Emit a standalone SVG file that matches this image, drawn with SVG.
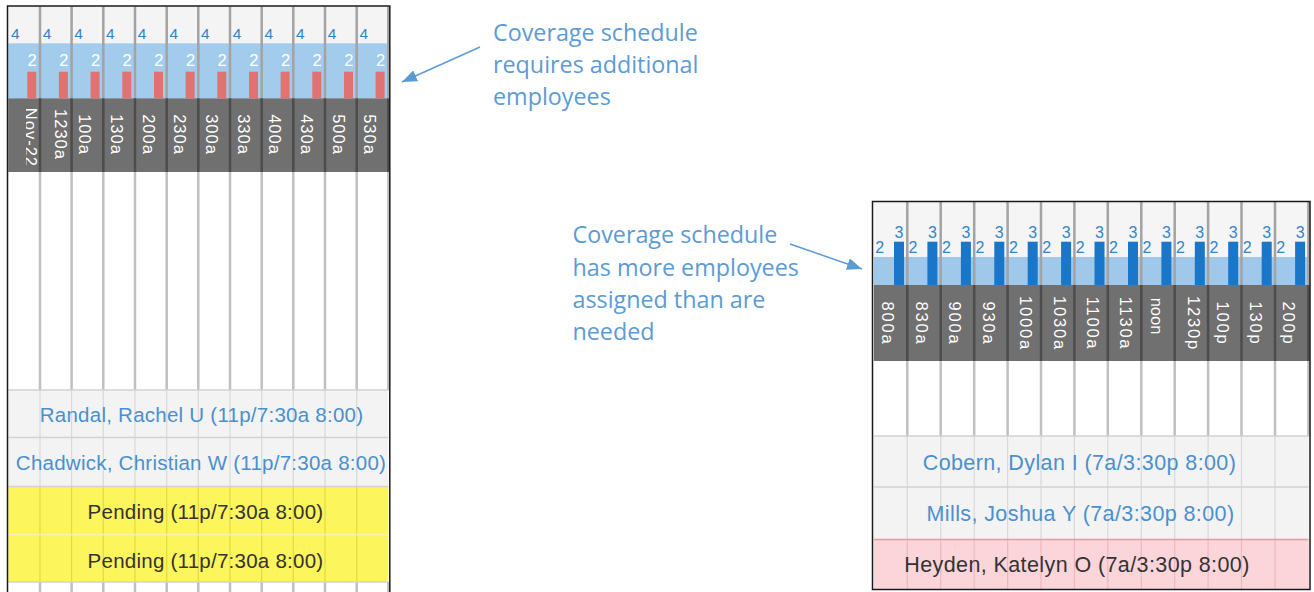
<svg xmlns="http://www.w3.org/2000/svg" width="1314" height="592" viewBox="0 0 1314 592">
<style>
text{font-family:"Liberation Sans",Arial,sans-serif}
.n4{font-size:15.5px;fill:#3584c9}
.n2w{font-size:16.5px;fill:#ffffff;text-anchor:end}
.n2b{font-size:16px;fill:#3584c9}
.n3{font-size:16px;fill:#3584c9;text-anchor:middle}
.hl{font-size:16.5px;fill:#ffffff;letter-spacing:1px;text-anchor:middle}
.hr{font-size:16.5px;fill:#ffffff;letter-spacing:1.8px;text-anchor:middle}
.rl{font-size:20.5px;letter-spacing:0.25px;text-anchor:middle}
.rr{font-size:21.5px;letter-spacing:0.4px;text-anchor:middle}
.bt{fill:#4a90cf}
.dt{fill:#333333}
.note{font-family:"Open Sans","Liberation Sans",sans-serif;font-size:23.3px;fill:#5b9bd5}
.red{fill:#e07272}
.bar{fill:#1a76c8}
.sepTop{stroke:#a3a3a3;stroke-width:2.5;fill:none}
.sepHdr{stroke:#4c4c4c;stroke-width:2.5;fill:none}
.sepWhite{stroke:#c0c0c0;stroke-width:2.5;fill:none}
.sepFaint{stroke:#d9d9d9;stroke-width:1.2;fill:none}
.sepYellow{stroke:#e3da40;stroke-width:1.2;fill:none}
.rowLine{stroke:#d2d2d2;stroke-width:1.5;fill:none}
.conn{stroke:#5b9bd5;stroke-width:1.5;fill:none}
</style>
<defs>
<marker id="ah" markerUnits="userSpaceOnUse" markerWidth="16" markerHeight="12" refX="15" refY="6" orient="auto">
<path d="M0,0 L15,6 L0,12 z" fill="#5b9bd5"/>
</marker>
<clipPath id="clipNov"><rect x="26" y="98.3" width="14" height="73.7"/></clipPath>
</defs>
<rect width="1314" height="592" fill="#ffffff"/>

<g id="left-panel">
<rect x="8.3" y="6.5" width="380" height="36.8" fill="#f4f4f4"/>
<rect x="8.3" y="43.3" width="380" height="55" fill="#a2cbec"/>
<rect x="8.3" y="98.3" width="380" height="73.7" fill="#707070"/>
<rect x="8.3" y="390" width="380" height="96.5" fill="#f3f3f3"/>
<rect x="8.3" y="486.5" width="380" height="95.5" fill="#fdf55c"/>
<g>
<rect class="red" x="27.3" y="71.7" width="9" height="26.6"/>
<rect class="red" x="58.9" y="71.7" width="9" height="26.6"/>
<rect class="red" x="90.6" y="71.7" width="9" height="26.6"/>
<rect class="red" x="122.3" y="71.7" width="9" height="26.6"/>
<rect class="red" x="154.0" y="71.7" width="9" height="26.6"/>
<rect class="red" x="185.6" y="71.7" width="9" height="26.6"/>
<rect class="red" x="217.3" y="71.7" width="9" height="26.6"/>
<rect class="red" x="249.0" y="71.7" width="9" height="26.6"/>
<rect class="red" x="280.6" y="71.7" width="9" height="26.6"/>
<rect class="red" x="312.3" y="71.7" width="9" height="26.6"/>
<rect class="red" x="344.0" y="71.7" width="9" height="26.6"/>
<rect class="red" x="375.6" y="71.7" width="9" height="26.6"/>
</g>
<path class="sepTop" d="M40,6.5V98.3M71.6,6.5V98.3M103.3,6.5V98.3M135,6.5V98.3M166.7,6.5V98.3M198.3,6.5V98.3M230,6.5V98.3M261.7,6.5V98.3M293.3,6.5V98.3M325,6.5V98.3M356.7,6.5V98.3M388.3,6.5V98.3"/>
<path class="sepHdr" d="M40,98.3V172M71.6,98.3V172M103.3,98.3V172M135,98.3V172M166.7,98.3V172M198.3,98.3V172M230,98.3V172M261.7,98.3V172M293.3,98.3V172M325,98.3V172M356.7,98.3V172M388.3,98.3V172"/>
<path class="sepWhite" d="M40,172V390M71.6,172V390M103.3,172V390M135,172V390M166.7,172V390M198.3,172V390M230,172V390M261.7,172V390M293.3,172V390M325,172V390M356.7,172V390M388.3,172V390"/>
<path class="sepFaint" d="M40,390V486.5M71.6,390V486.5M103.3,390V486.5M135,390V486.5M166.7,390V486.5M198.3,390V486.5M230,390V486.5M261.7,390V486.5M293.3,390V486.5M325,390V486.5M356.7,390V486.5"/>
<path class="sepYellow" d="M40,486.5V582M71.6,486.5V582M103.3,486.5V582M135,486.5V582M166.7,486.5V582M198.3,486.5V582M230,486.5V582M261.7,486.5V582M293.3,486.5V582M325,486.5V582M356.7,486.5V582"/>
<path class="sepWhite" d="M40,582V592M71.6,582V592M103.3,582V592M135,582V592M166.7,582V592M198.3,582V592M230,582V592M261.7,582V592M293.3,582V592M325,582V592M356.7,582V592M388.3,582V592"/>
<path class="rowLine" d="M8.3,390H388.3M8.3,437.5H388.3M8.3,486.5H388.3M8.3,582H388.3"/>
<path d="M8.3,534.5H388.3" stroke="#f4f0c0" stroke-width="1.5"/>
<g>
<text class="n4" x="11" y="38.5">4</text>
<text class="n4" x="42.7" y="38.5">4</text>
<text class="n4" x="74.3" y="38.5">4</text>
<text class="n4" x="106" y="38.5">4</text>
<text class="n4" x="137.7" y="38.5">4</text>
<text class="n4" x="169.4" y="38.5">4</text>
<text class="n4" x="201" y="38.5">4</text>
<text class="n4" x="232.7" y="38.5">4</text>
<text class="n4" x="264.4" y="38.5">4</text>
<text class="n4" x="296" y="38.5">4</text>
<text class="n4" x="327.7" y="38.5">4</text>
<text class="n4" x="359.4" y="38.5">4</text>
</g>
<g>
<text class="n2w" x="36.8" y="65.5">2</text>
<text class="n2w" x="68.4" y="65.5">2</text>
<text class="n2w" x="100.1" y="65.5">2</text>
<text class="n2w" x="131.8" y="65.5">2</text>
<text class="n2w" x="163.5" y="65.5">2</text>
<text class="n2w" x="195.1" y="65.5">2</text>
<text class="n2w" x="226.8" y="65.5">2</text>
<text class="n2w" x="258.5" y="65.5">2</text>
<text class="n2w" x="290.1" y="65.5">2</text>
<text class="n2w" x="321.8" y="65.5">2</text>
<text class="n2w" x="353.5" y="65.5">2</text>
<text class="n2w" x="385.1" y="65.5">2</text>
</g>
<g>
<g clip-path="url(#clipNov)"><text class="hl" style="text-anchor:end" transform="translate(25,167) rotate(90)">Nov-22</text></g>
<text class="hl" transform="translate(55,134.5) rotate(90)">1230a</text>
<text class="hl" transform="translate(79.3,134.5) rotate(90)">100a</text>
<text class="hl" transform="translate(111,134.5) rotate(90)">130a</text>
<text class="hl" transform="translate(142.7,134.5) rotate(90)">200a</text>
<text class="hl" transform="translate(174.4,134.5) rotate(90)">230a</text>
<text class="hl" transform="translate(206,134.5) rotate(90)">300a</text>
<text class="hl" transform="translate(237.7,134.5) rotate(90)">330a</text>
<text class="hl" transform="translate(269.4,134.5) rotate(90)">400a</text>
<text class="hl" transform="translate(301,134.5) rotate(90)">430a</text>
<text class="hl" transform="translate(332.7,134.5) rotate(90)">500a</text>
<text class="hl" transform="translate(364.4,134.5) rotate(90)">530a</text>
</g>
<text class="rl bt" x="201.5" y="421.5">Randal, Rachel U (11p/7:30a 8:00)</text>
<text class="rl bt" x="201" y="470">Chadwick, Christian W (11p/7:30a 8:00)</text>
<text class="rl dt" x="205.5" y="519">Pending (11p/7:30a 8:00)</text>
<text class="rl dt" x="205.5" y="568">Pending (11p/7:30a 8:00)</text>
<path d="M7.5,592V6H389.8V592" fill="none" stroke="#1a1a1a" stroke-width="1.5"/>
</g>

<g id="right-panel">
<rect x="873.9" y="202" width="435" height="55" fill="#f5f5f5"/>
<rect x="873.9" y="257" width="435" height="28" fill="#a0c8ea"/>
<rect x="873.9" y="285" width="435" height="76" fill="#707070"/>
<rect x="873.9" y="436" width="435" height="103.5" fill="#f3f3f3"/>
<rect x="873.9" y="539.5" width="435" height="49.5" fill="#fbd5d9"/>
<g>
<rect class="bar" x="894.0" y="241.7" width="10" height="43.3"/>
<rect class="bar" x="927.4" y="241.7" width="10" height="43.3"/>
<rect class="bar" x="960.9" y="241.7" width="10" height="43.3"/>
<rect class="bar" x="994.3" y="241.7" width="10" height="43.3"/>
<rect class="bar" x="1027.7" y="241.7" width="10" height="43.3"/>
<rect class="bar" x="1061.1" y="241.7" width="10" height="43.3"/>
<rect class="bar" x="1094.5" y="241.7" width="10" height="43.3"/>
<rect class="bar" x="1128.0" y="241.7" width="10" height="43.3"/>
<rect class="bar" x="1161.4" y="241.7" width="10" height="43.3"/>
<rect class="bar" x="1194.8" y="241.7" width="10" height="43.3"/>
<rect class="bar" x="1228.2" y="241.7" width="10" height="43.3"/>
<rect class="bar" x="1261.7" y="241.7" width="10" height="43.3"/>
<rect class="bar" x="1295.1" y="241.7" width="10" height="43.3"/>
</g>
<path class="sepTop" d="M907.3,202V285M940.7,202V285M974.2,202V285M1007.6,202V285M1041,202V285M1074.4,202V285M1107.8,202V285M1141.3,202V285M1174.7,202V285M1208.1,202V285M1241.5,202V285M1275,202V285M1308.4,202V285"/>
<path class="sepHdr" d="M907.3,285V361M940.7,285V361M974.2,285V361M1007.6,285V361M1041,285V361M1074.4,285V361M1107.8,285V361M1141.3,285V361M1174.7,285V361M1208.1,285V361M1241.5,285V361M1275,285V361M1308.4,285V361"/>
<path class="sepWhite" d="M907.3,361V436M940.7,361V436M974.2,361V436M1007.6,361V436M1041,361V436M1074.4,361V436M1107.8,361V436M1141.3,361V436M1174.7,361V436M1208.1,361V436M1241.5,361V436M1275,361V436M1308.4,361V436"/>
<path class="sepFaint" d="M907.3,436V539.5M940.7,436V539.5M974.2,436V539.5M1007.6,436V539.5M1041,436V539.5M1074.4,436V539.5M1107.8,436V539.5M1141.3,436V539.5M1174.7,436V539.5M1208.1,436V539.5M1241.5,436V539.5M1275,436V539.5"/>
<path d="M907.3,539.5V589M940.7,539.5V589M974.2,539.5V589M1007.6,539.5V589M1041,539.5V589M1074.4,539.5V589M1107.8,539.5V589M1141.3,539.5V589M1174.7,539.5V589M1208.1,539.5V589M1241.5,539.5V589M1275,539.5V589" stroke="#ecb9bf" stroke-width="1.2" fill="none"/>
<path class="rowLine" d="M873.9,436H1308.4M873.9,487H1308.4"/>
<path d="M873.9,539.5H1308.4" stroke="#e79aa4" stroke-width="1.5"/>
<g>
<text class="n2b" x="875.2" y="252.5">2</text>
<text class="n2b" x="908.6" y="252.5">2</text>
<text class="n2b" x="942" y="252.5">2</text>
<text class="n2b" x="975.5" y="252.5">2</text>
<text class="n2b" x="1008.9" y="252.5">2</text>
<text class="n2b" x="1042.3" y="252.5">2</text>
<text class="n2b" x="1075.7" y="252.5">2</text>
<text class="n2b" x="1109.1" y="252.5">2</text>
<text class="n2b" x="1142.6" y="252.5">2</text>
<text class="n2b" x="1176" y="252.5">2</text>
<text class="n2b" x="1209.4" y="252.5">2</text>
<text class="n2b" x="1242.8" y="252.5">2</text>
<text class="n2b" x="1276.3" y="252.5">2</text>
</g>
<g>
<text class="n3" x="899.0" y="237.5">3</text>
<text class="n3" x="932.4" y="237.5">3</text>
<text class="n3" x="965.9" y="237.5">3</text>
<text class="n3" x="999.3" y="237.5">3</text>
<text class="n3" x="1032.7" y="237.5">3</text>
<text class="n3" x="1066.1" y="237.5">3</text>
<text class="n3" x="1099.5" y="237.5">3</text>
<text class="n3" x="1133.0" y="237.5">3</text>
<text class="n3" x="1166.4" y="237.5">3</text>
<text class="n3" x="1199.8" y="237.5">3</text>
<text class="n3" x="1233.2" y="237.5">3</text>
<text class="n3" x="1266.7" y="237.5">3</text>
<text class="n3" x="1300.1" y="237.5">3</text>
</g>
<g>
<text class="hr" transform="translate(882.3,323.5) rotate(90)">800a</text>
<text class="hr" transform="translate(915.7,323.5) rotate(90)">830a</text>
<text class="hr" transform="translate(949.1,323.5) rotate(90)">900a</text>
<text class="hr" transform="translate(982.6,323.5) rotate(90)">930a</text>
<text class="hr" transform="translate(1020.2,323.5) rotate(90)">1000a</text>
<text class="hr" transform="translate(1053.6,323.5) rotate(90)">1030a</text>
<text class="hr" transform="translate(1087,323.5) rotate(90)">1100a</text>
<text class="hr" transform="translate(1120.4,323.5) rotate(90)">1130a</text>
<text class="hr" style="letter-spacing:0" transform="translate(1150.8,316) rotate(90)">noon</text>
<text class="hr" transform="translate(1187.5,323.5) rotate(90)">1230p</text>
<text class="hr" transform="translate(1216.6,323.5) rotate(90)">100p</text>
<text class="hr" transform="translate(1249.9,323.5) rotate(90)">130p</text>
<text class="hr" transform="translate(1283.2,323.5) rotate(90)">200p</text>
</g>
<text class="rr bt" x="1079.5" y="469.5">Cobern, Dylan I (7a/3:30p 8:00)</text>
<text class="rr bt" x="1080.5" y="521">Mills, Joshua Y (7a/3:30p 8:00)</text>
<text class="rr dt" x="1077" y="572">Heyden, Katelyn O (7a/3:30p 8:00)</text>
<rect x="872.5" y="201.5" width="437.5" height="388" fill="none" stroke="#1a1a1a" stroke-width="1.5"/>
</g>

<g id="note-left">
<text class="note" x="493" y="40.5">Coverage schedule</text>
<text class="note" x="493" y="73">requires additional</text>
<text class="note" x="493" y="105">employees</text>
</g>
<g id="note-right">
<text class="note" x="572.5" y="243.3">Coverage schedule</text>
<text class="note" x="572.5" y="275.7">has more employees</text>
<text class="note" x="572.5" y="307.7">assigned than are</text>
<text class="note" x="572.5" y="339.5">needed</text>
</g>

<g id="connectors">
<line class="conn" x1="480" y1="47" x2="402" y2="82" marker-end="url(#ah)"/>
<line class="conn" x1="790" y1="244" x2="862" y2="269" marker-end="url(#ah)"/>
</g>
</svg>
